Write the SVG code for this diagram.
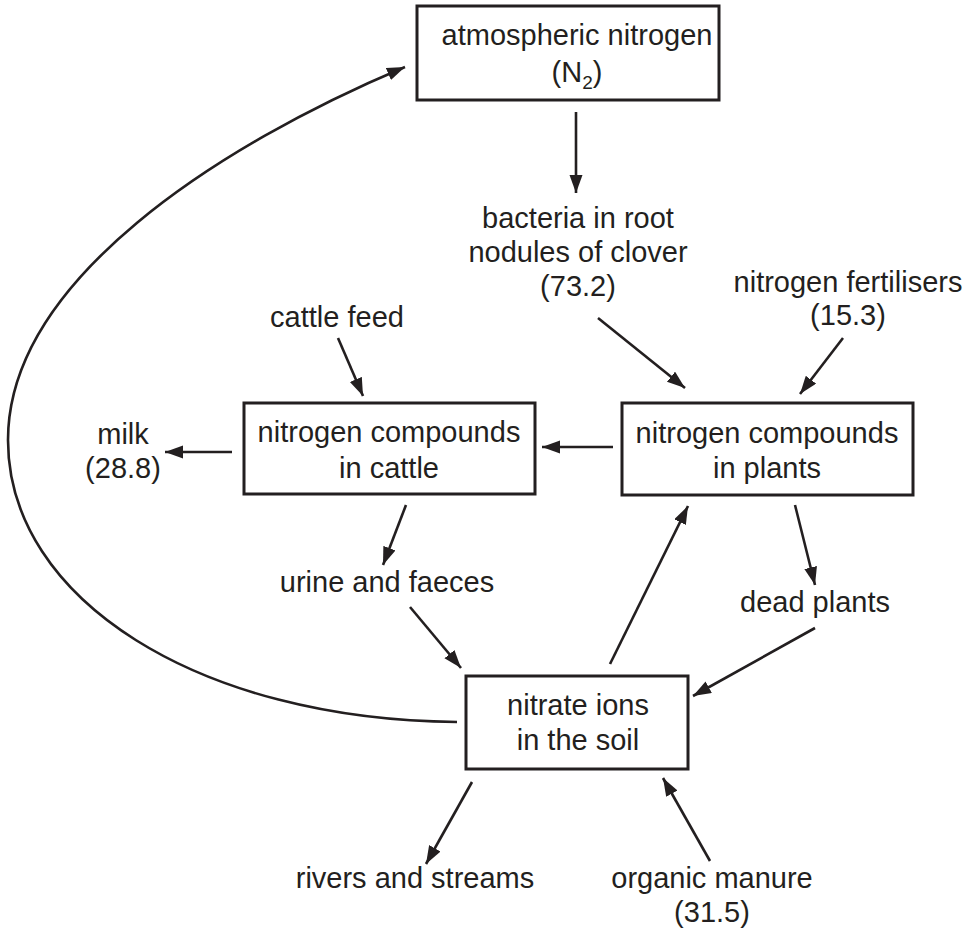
<svg xmlns="http://www.w3.org/2000/svg" width="966" height="933" viewBox="0 0 966 933">
<defs>
<style>
text{font-family:"Liberation Sans",Arial,Helvetica,sans-serif;font-size:29px;fill:#231f20;text-anchor:middle}
.box{fill:#fff;stroke:#231f20;stroke-width:3}
.c{fill:none;stroke:#231f20;stroke-width:2.6}
</style>
<marker id="ah" markerUnits="userSpaceOnUse" markerWidth="20" markerHeight="14" refX="18" refY="6.5" orient="auto">
<path d="M0,0 L18,6.5 L0,13 z" fill="#231f20"/>
</marker>
</defs>
<rect width="966" height="933" fill="#fff"/>
<g id="connectors">
<path class="c" marker-end="url(#ah)" d="M576,112 L576,193"/>
<path class="c" marker-end="url(#ah)" d="M598,318 L685,388"/>
<path class="c" marker-end="url(#ah)" d="M843,338 L800,394"/>
<path class="c" marker-end="url(#ah)" d="M338,338 L363,396"/>
<path class="c" marker-end="url(#ah)" d="M613,447 L542,447"/>
<path class="c" marker-end="url(#ah)" d="M232,452 L165,452"/>
<path class="c" marker-end="url(#ah)" d="M406,505 L383,565"/>
<path class="c" marker-end="url(#ah)" d="M410,607 L461,668"/>
<path class="c" marker-end="url(#ah)" d="M610,664 L688,506"/>
<path class="c" marker-end="url(#ah)" d="M795,505 L815,585"/>
<path class="c" marker-end="url(#ah)" d="M815,628 L693,696"/>
<path class="c" marker-end="url(#ah)" d="M472,782 L426,864"/>
<path class="c" marker-end="url(#ah)" d="M710,861 L663,778"/>
<path class="c" marker-end="url(#ah)" d="M457,722 C200,720 8,600 8,440 C8,280 220,145 405,67"/>
</g>
<g id="atmospheric-nitrogen">
<rect class="box" x="417" y="6" width="302" height="94"/>
<text x="577" y="45">atmospheric nitrogen</text>
<text x="577" y="82">(N<tspan font-size="19" dy="7">2</tspan><tspan dy="-7">)</tspan></text>
</g>
<g id="bacteria">
<text x="578" y="228">bacteria in root</text>
<text x="578" y="262">nodules of clover</text>
<text x="578" y="296">(73.2)</text>
</g>
<g id="fertilisers">
<text x="848" y="292">nitrogen fertilisers</text>
<text x="848" y="325">(15.3)</text>
</g>
<g id="cattle-feed">
<text x="337" y="327">cattle feed</text>
</g>
<g id="cattle">
<rect class="box" x="244" y="403" width="291" height="91"/>
<text x="389" y="442">nitrogen compounds</text>
<text x="389" y="478">in cattle</text>
</g>
<g id="plants">
<rect class="box" x="622" y="403" width="291" height="92"/>
<text x="767" y="443">nitrogen compounds</text>
<text x="767" y="478">in plants</text>
</g>
<g id="milk">
<text x="123" y="444">milk</text>
<text x="123" y="478">(28.8)</text>
</g>
<g id="urine">
<text x="387" y="592">urine and faeces</text>
</g>
<g id="dead-plants">
<text x="815" y="612">dead plants</text>
</g>
<g id="nitrate">
<rect class="box" x="466" y="676" width="222" height="93"/>
<text x="578" y="715">nitrate ions</text>
<text x="578" y="750">in the soil</text>
</g>
<g id="rivers">
<text x="415" y="888">rivers and streams</text>
</g>
<g id="manure">
<text x="712" y="888">organic manure</text>
<text x="712" y="922">(31.5)</text>
</g>
</svg>
